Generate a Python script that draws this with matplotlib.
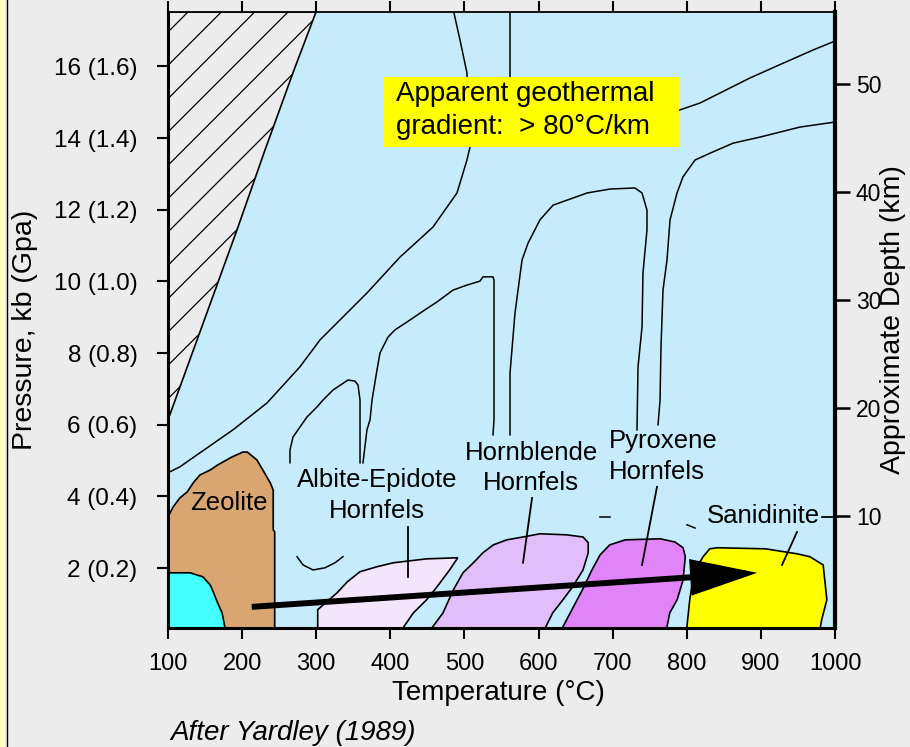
import matplotlib.pyplot as plt
from matplotlib.patches import Polygon, Rectangle
from matplotlib.lines import Line2D

plt.rcParams['font.family'] = ['Liberation Sans', 'DejaVu Sans']
plt.rcParams['hatch.linewidth'] = 0.9

# axis ranges: temperature (°C), pressure (kb), depth (km)
T_MIN, T_MAX = 100, 1000
P_MIN, P_MAX = 0.33, 17.52
Z_MIN, Z_MAX = -0.37, 56.67

# --- fields (temperature, pressure) ---
hatch_T = [100, 299.7, 270.0, 230.9, 193.1, 154.0, 116.2, 100]
hatch_P = [P_MAX, P_MAX, 15.90, 13.67, 11.44, 9.21, 7.06, 6.14]

zeo_T = [100, 100, 107, 116, 126, 134, 143, 157, 167, 186, 201, 207, 220, 228, 238, 242, 242, 244, 244]
zeo_P = [0.33, 3.43, 3.71, 3.96, 4.13, 4.38, 4.60, 4.74, 4.88, 5.10, 5.24, 5.24, 5.02, 4.74, 4.38, 4.18, 3.07, 3.01, 0.33]

cyan_T = [100, 100, 130, 139, 147, 157, 161, 167, 173, 177]
cyan_P = [0.33, 1.87, 1.87, 1.81, 1.76, 1.53, 1.34, 1.03, 0.75, 0.33]

alb_T = [302, 302, 328, 342, 359, 382, 404, 449, 491, 480, 463, 449, 431, 417]
alb_P = [0.33, 0.84, 1.31, 1.62, 1.90, 2.04, 2.15, 2.26, 2.29, 1.95, 1.48, 1.12, 0.75, 0.33]

hbl_T = [456, 471, 485, 498, 512, 525, 539, 557, 579, 602, 638, 660, 667, 667, 660, 646, 633, 619, 609]
hbl_P = [0.33, 0.75, 1.39, 1.87, 2.15, 2.43, 2.65, 2.79, 2.87, 2.96, 2.93, 2.87, 2.71, 2.43, 1.95, 1.48, 1.12, 0.75, 0.33]

px_T = [632, 645, 659, 672, 683, 696, 717, 764, 784, 795, 798, 795, 787, 777, 773]
px_P = [0.33, 0.84, 1.39, 1.95, 2.37, 2.65, 2.79, 2.82, 2.73, 2.57, 2.32, 1.67, 1.12, 0.75, 0.33]

san_T = [800, 804, 808, 814, 822, 831, 841, 906, 949, 966, 984, 989, 982, 980]
san_P = [0.33, 1.12, 1.67, 2.04, 2.32, 2.54, 2.57, 2.54, 2.40, 2.32, 2.09, 1.12, 0.56, 0.33]

# --- reaction curves ---
curves = {
    'F': ([100, 116.2, 143.2, 187.7, 233.6, 278.1, 305.1, 368.5, 413.0, 457.6, 489.9, 503.4, 507.5, 504.8, 503.4, 494.0, 485.9],
          [4.66, 4.83, 5.22, 5.86, 6.61, 7.62, 8.37, 9.68, 10.68, 11.52, 12.47, 13.39, 13.75, 14.78, 15.82, 16.74, 17.49]),
    'A': ([264.6, 264.6, 268.7, 278.1, 287.6, 301.1, 309.1, 322.6, 342.9, 352.3, 356.4, 359.1, 359.1],
          [4.94, 5.30, 5.66, 5.94, 6.22, 6.50, 6.69, 6.97, 7.25, 7.22, 7.11, 6.69, 4.94]),
    'B': ([363.1, 368.5, 372.6, 375.3, 382.0, 386.1, 396.9, 406.3, 422.5, 446.8, 463.0, 484.6, 503.4, 521.0, 525.0, 538.5, 539.9, 539.9, 538.5],
          [4.94, 5.86, 6.14, 6.69, 7.53, 8.01, 8.45, 8.65, 8.87, 9.21, 9.43, 9.76, 9.90, 10.01, 10.13, 10.13, 10.04, 6.14, 5.72]),
    'C': ([561.5, 561.5, 568.2, 577.7, 585.8, 601.9, 619.5, 638.4, 665.4, 696.4, 730.1, 739.6, 746.3, 746.3, 740.9, 739.6, 734.2, 732.8],
          [5.72, 7.45, 9.12, 10.60, 11.07, 11.72, 12.13, 12.27, 12.47, 12.58, 12.61, 12.47, 11.99, 11.44, 10.24, 8.73, 7.62, 5.86]),
    'D': ([761.2, 763.9, 765.2, 767.9, 773.3, 777.4, 786.8, 794.9, 811.1, 831.3, 862.4, 898.8, 952.8, 1000],
          [6.00, 6.69, 8.17, 9.76, 10.60, 11.72, 12.47, 12.92, 13.39, 13.58, 13.86, 14.03, 14.31, 14.45]),
    'E': ([763.9, 789.5, 817.8, 885.3, 929.8, 970.3, 1000],
          [14.59, 14.78, 14.98, 15.68, 16.09, 16.46, 16.71]),
    'G': ([561.5, 561.5], [P_MAX, 15.06]),
    'U': ([274.1, 282.2, 295.7, 311.8, 325.3, 336.1], [2.32, 2.09, 1.95, 2.01, 2.15, 2.32]),
    'dash1': ([682.9, 696.4], [3.43, 3.43]),
    'dash2': ([800.3, 811.1], [3.21, 3.12]),
}

# labels: text, T, P, horizontal alignment
labels = [
    ('Zeolite', 182, 3.82, 'center'),
    ('Albite-Epidote\nHornfels', 382, 4.02, 'center'),
    ('Hornblende\nHornfels', 590, 4.80, 'center'),
    ('Pyroxene\nHornfels', 695, 5.12, 'left'),
    ('Sanidinite', 903, 3.46, 'center'),
]
leaders = [
    ([424.0, 424.0], [3.15, 1.76]),
    ([591.2, 579.0], [3.96, 2.15]),
    ([759.8, 739.6], [4.27, 2.09]),
    ([948.7, 928.5], [3.01, 2.09]),
    ([982.5, 1000], [3.43, 3.43]),
]

# contact-metamorphism path (start, end)
path_T = [213, 895]
path_P = [0.92, 1.87]

p_ticks = [2, 4, 6, 8, 10, 12, 14, 16]
z_ticks = [10, 20, 30, 40, 50]
t_ticks = list(range(100, 1001, 100))

fig = plt.figure(figsize=(9.1, 7.47), dpi=100, facecolor='#ECECEC')
ax = fig.add_axes([0.1846, 0.1593, 0.7330, 0.8246])
ax.set_facecolor('#C6ECFC')
ax.set_xlim(T_MIN, T_MAX)
ax.set_ylim(P_MIN, P_MAX)

ax.add_patch(Polygon(list(zip(hatch_T, hatch_P)), closed=True, fc='#ECECEC', ec='black', lw=1.2, hatch='/'))
ax.add_patch(Polygon(list(zip(zeo_T, zeo_P)), closed=True, fc='#D9A672', ec='black', lw=1.2))
ax.add_patch(Polygon(list(zip(cyan_T, cyan_P)), closed=True, fc='#44FFFF', ec='black', lw=1.2))
ax.add_patch(Polygon(list(zip(alb_T, alb_P)), closed=True, fc='#F3E5FB', ec='black', lw=1.2))
ax.add_patch(Polygon(list(zip(hbl_T, hbl_P)), closed=True, fc='#E1BEF9', ec='black', lw=1.2))
ax.add_patch(Polygon(list(zip(px_T, px_P)), closed=True, fc='#E184F8', ec='black', lw=1.2))
ax.add_patch(Polygon(list(zip(san_T, san_P)), closed=True, fc='#FFFF00', ec='black', lw=1.2))

for key, (t, p) in curves.items():
    ax.plot(t, p, color='black', lw=1.1, zorder=2)

for t, p in leaders:
    ax.plot(t, p, color='black', lw=1.3, zorder=2)

for txt, t, p, ha in labels:
    ax.text(t, p, txt, ha=ha, va='center', multialignment=ha, fontsize=18.5, linespacing=1.35, zorder=3)

ax.annotate('', xy=(path_T[1], path_P[1]), xytext=(path_T[0], path_P[0]),
            arrowprops=dict(arrowstyle='-|>,head_length=0.95,head_width=0.26', mutation_scale=40,
                            lw=4.3, color='black', shrinkA=0, shrinkB=0,
                            joinstyle='miter', capstyle='butt'), zorder=4)

# geothermal gradient note
ax.add_patch(Rectangle((391.4, 13.75), 398.1, 1.95, fc='#FFFF00', ec='none', zorder=2.6))
ax.text(408, 14.76, 'Apparent geothermal\ngradient:  > 80°C/km', ha='left', va='center',
        fontsize=20, linespacing=1.35, zorder=2.7)

# axes styling
ax.set_xticks(t_ticks)
ax.set_yticks(p_ticks)
ax.set_yticklabels([f'{p} ({p / 10:.1f})' for p in p_ticks])
ax.tick_params(axis='x', direction='out', length=8, width=1.5, pad=10, labelsize=17, top=True)
ax.tick_params(axis='y', direction='out', length=8, width=1.5, pad=14, labelsize=17.5, right=False)
ax.spines['left'].set_linewidth(2.2)
ax.spines['bottom'].set_linewidth(2.2)
ax.spines['top'].set_linewidth(1.3)
ax.spines['right'].set_visible(False)
for s in ax.spines.values():
    s.set_zorder(5)

ax.set_xlabel('Temperature (°C)', fontsize=20)
ax.xaxis.set_label_coords(0.496, -0.085)
ax.set_ylabel('Pressure, kb (Gpa)', fontsize=20.5)
ax.yaxis.set_label_coords(-0.195, 0.484)

ax2 = ax.twinx()
ax2.set_ylim(Z_MIN, Z_MAX)
ax2.set_yticks(z_ticks)
ax2.tick_params(axis='y', direction='out', length=11, width=1.8, pad=4, labelsize=16.5)
for side in ['left', 'top', 'bottom']:
    ax2.spines[side].set_visible(False)
ax2.spines['right'].set_linewidth(3)
ax2.set_ylabel('Approximate Depth (km)', fontsize=20.5)
ax2.yaxis.set_label_coords(1.0675, 0.5)

fig.text(170 / 910, 1 - 733 / 747, 'After Yardley (1989)', style='italic', fontsize=20, va='center')

# page edge on the left
fig.patches.append(Rectangle((0, 0), 5 / 910, 1, transform=fig.transFigure, fc='#FFFFCC', ec='none'))
fig.lines.append(Line2D([6.5 / 910, 6.5 / 910], [0, 1], transform=fig.transFigure, color='black', lw=1))

fig.savefig('out.png', dpi=100, facecolor=fig.get_facecolor())
